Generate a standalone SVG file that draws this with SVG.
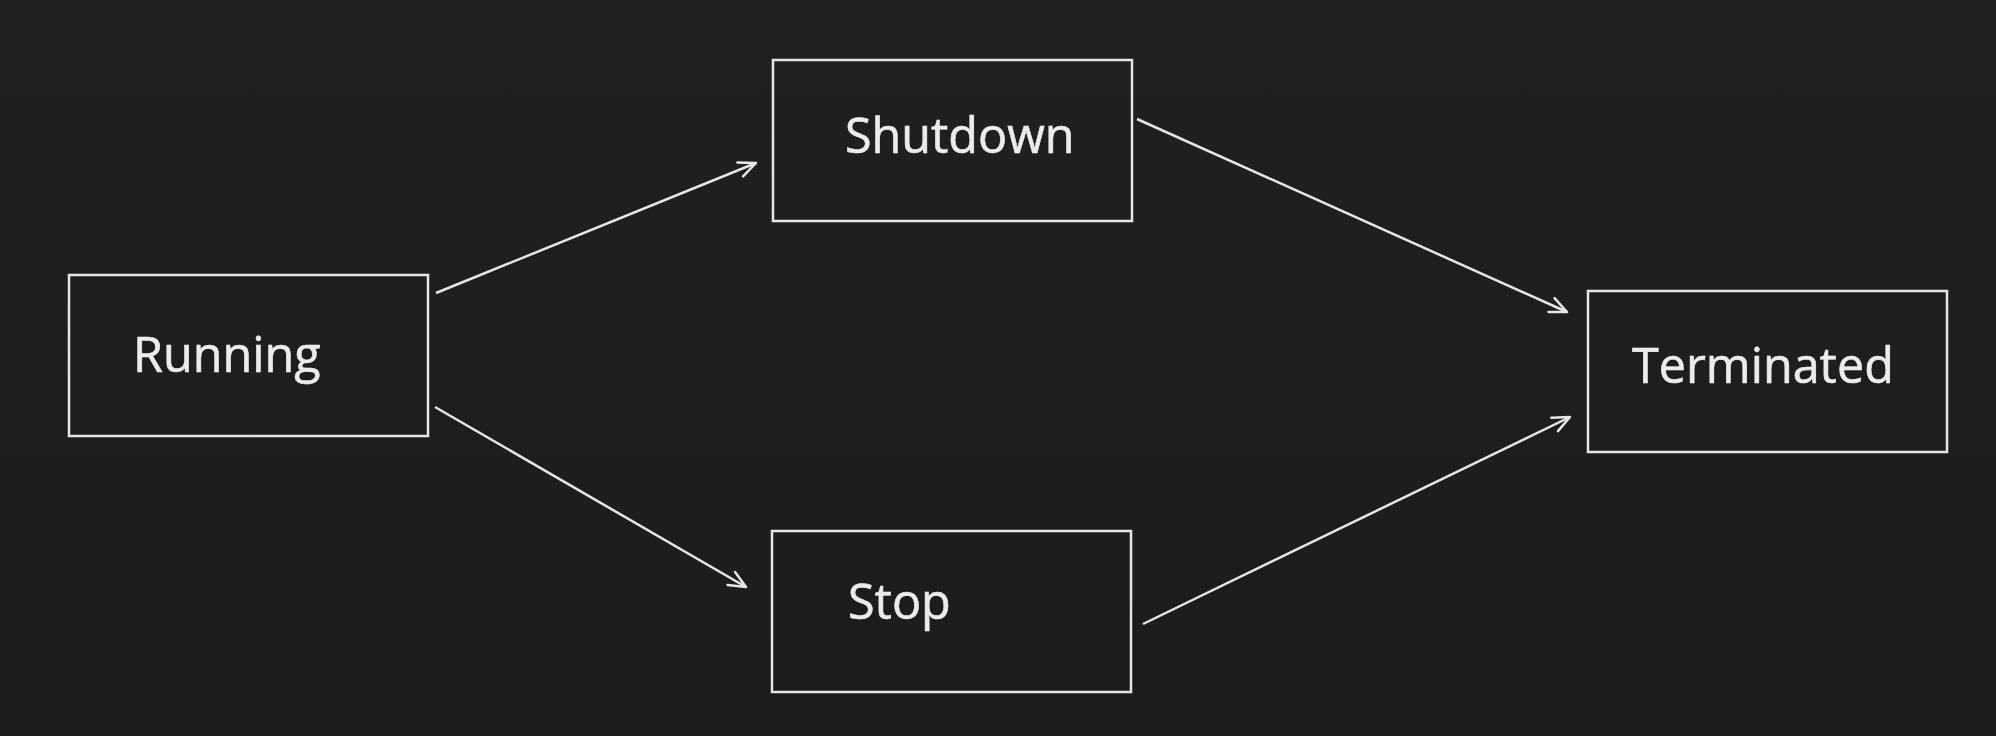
<svg xmlns="http://www.w3.org/2000/svg" width="1996" height="736" viewBox="0 0 1996 736">
  <defs>
    <linearGradient id="bg" x1="0" y1="0" x2="0" y2="1">
      <stop offset="0" stop-color="#202020"/>
      <stop offset="1" stop-color="#1c1c1b"/>
    </linearGradient>
    <marker id="arrow" markerUnits="userSpaceOnUse" markerWidth="24" markerHeight="24" viewBox="-20 -12 24 24" refX="0" refY="0" orient="auto">
      <path d="M-17,-7.5 L0,0 L-17,7.5" fill="none" stroke="#e6e6e6" stroke-width="2.5" stroke-linecap="round" stroke-linejoin="round"/>
    </marker>
  </defs>
  <style>
    .box { fill: none; stroke: #e6e6e6; stroke-width: 2.5; }
    .label { font-family: "Open Sans", "Noto Sans", sans-serif; font-size: 48.5px; fill: #ececec; stroke: #ececec; stroke-width: 0.6; }
    .edge { fill: none; stroke: #e6e6e6; stroke-width: 2.5; marker-end: url(#arrow); }
  </style>
  <rect x="0" y="0" width="1996" height="736" fill="url(#bg)"/>

  <g id="node-running">
    <rect class="box" x="69" y="275" width="359" height="161"/>
    <text class="label" x="133" y="372">Running</text>
  </g>
  <g id="node-shutdown">
    <rect class="box" x="773" y="60" width="359" height="161"/>
    <text class="label" x="845" y="153">Shutdown</text>
  </g>
  <g id="node-stop">
    <rect class="box" x="772" y="531" width="359" height="161"/>
    <text class="label" x="848" y="619">Stop</text>
  </g>
  <g id="node-terminated">
    <rect class="box" x="1588" y="291" width="359" height="161"/>
    <text class="label" x="1632" y="383">Terminated</text>
  </g>

  <g id="connectors">
    <line class="edge" x1="436" y1="293" x2="756" y2="163"/>
    <line class="edge" x1="1137" y1="119" x2="1567" y2="312"/>
    <line class="edge" x1="435" y1="407" x2="746" y2="587"/>
    <line class="edge" x1="1143" y1="624" x2="1570" y2="417"/>
  </g>
</svg>
